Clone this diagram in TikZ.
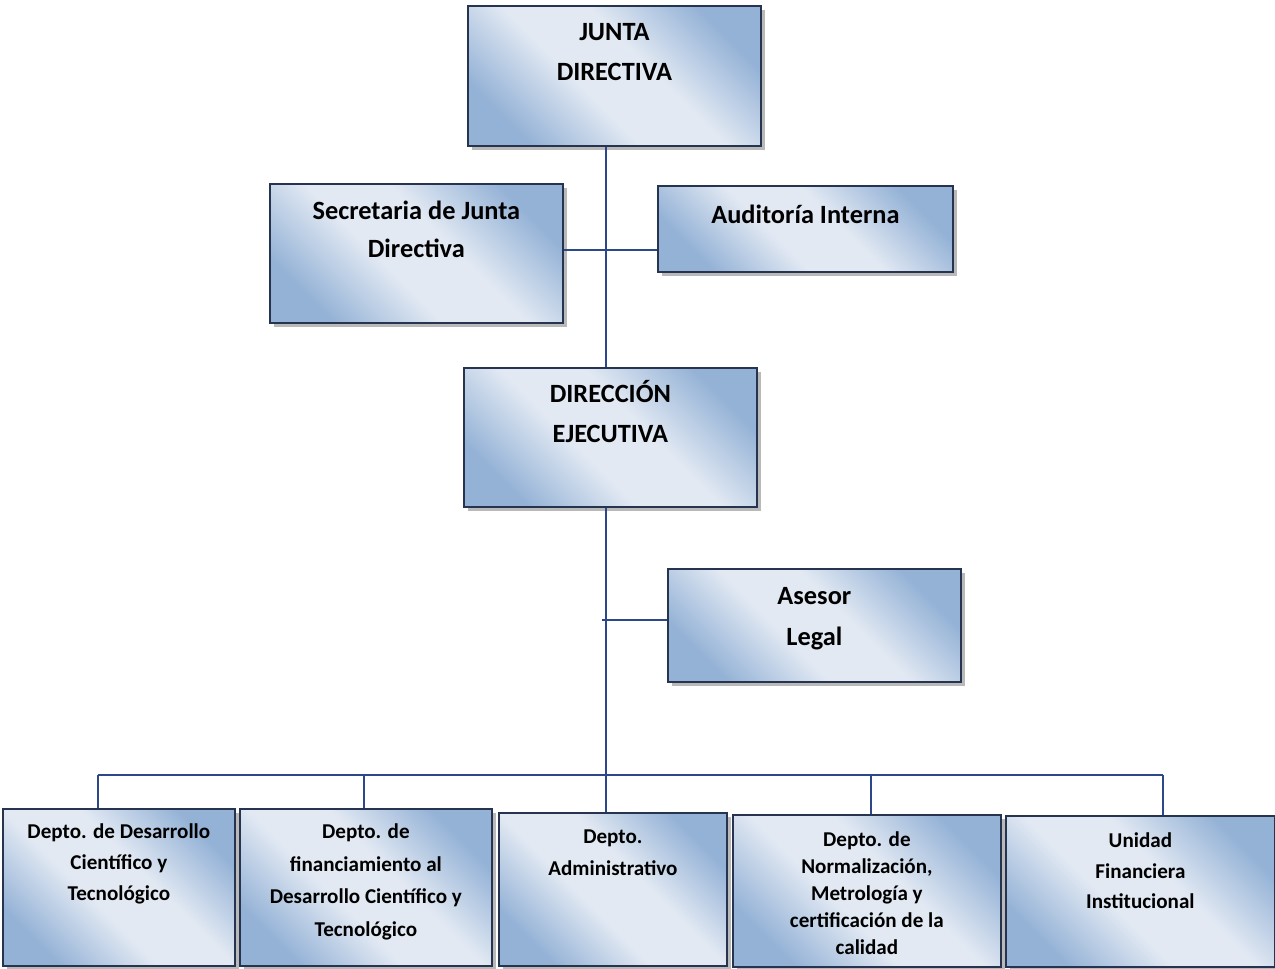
\documentclass[tikz,border=0pt]{standalone}
\usepackage{fontspec}
\setmainfont{Carlito}
\usetikzlibrary{shadows}
\definecolor{boxdark}{RGB}{148,178,214}
\definecolor{boxlight}{RGB}{226,233,243}
\definecolor{boxedge}{RGB}{38,52,80}
\definecolor{linkblue}{RGB}{44,72,138}
\pgfdeclarehorizontalshading{orgshade}{100bp}{color(0bp)=(boxdark); color(25bp)=(boxdark); color(43bp)=(boxlight); color(57bp)=(boxlight); color(75bp)=(boxdark); color(100bp)=(boxdark)}
% box text: height, width, top gap, lines
\newcommand{\boxtext}[4]{\parbox[t][#1][t]{#2}{\centering\vspace*{#3}#4}}

\begin{document}
\begin{tikzpicture}[
    %	style def
    orgbox/.style={draw=boxedge, line width=1pt, shading=orgshade, shading angle=45,
        inner sep=0pt, anchor=north west,
        drop shadow={shadow xshift=2.5pt, shadow yshift=-2.5pt, fill=black!55},
        font=\fontsize{15}{22.7}\selectfont\bfseries},
    deptbox/.style={orgbox, font=\fontsize{12}{17.6}\selectfont\bfseries},
    orgline/.style={draw=linkblue, line width=1.1pt}
    ]
    \useasboundingbox (0,0) rectangle (25.5,-19.36);

    % upper boxes
    \node[orgbox] (junta) at (9.34,-0.1) {\boxtext{2.8cm}{5.86cm}{0.35cm}{JUNTA\\DIRECTIVA}};
    \node[orgbox, font=\fontsize{15}{21.5}\selectfont\bfseries] (secretaria) at (5.38,-3.66) {\boxtext{2.78cm}{5.86cm}{0.34cm}{Secretaria de Junta\\Directiva}};
    \node[orgbox] (auditoria) at (13.14,-3.7) {\boxtext{1.72cm}{5.9cm}{0.39cm}{Auditoría Interna}};
    \node[orgbox] (direccion) at (9.26,-7.34) {\boxtext{2.78cm}{5.86cm}{0.25cm}{DIRECCIÓN\\EJECUTIVA}};
    \node[orgbox, font=\fontsize{15}{23.2}\selectfont\bfseries] (asesor) at (13.34,-11.36) {\boxtext{2.26cm}{5.86cm}{0.37cm}{Asesor\\Legal}};

    % departments
    \node[deptbox] (dcyt) at (0.04,-16.16) {\boxtext{3.14cm}{4.64cm}{0.3cm}{Depto. de Desarrollo\\Científico y\\Tecnológico}};
    \node[deptbox, font=\fontsize{12}{18.5}\selectfont\bfseries] (dfin) at (4.78,-16.16) {\boxtext{3.14cm}{5.04cm}{0.3cm}{Depto. de\\financiamiento al\\Desarrollo Científico y\\Tecnológico}};
    \node[deptbox, font=\fontsize{12}{18}\selectfont\bfseries] (dadm) at (9.96,-16.24) {\boxtext{3.06cm}{4.56cm}{0.34cm}{Depto.\\Administrativo}};
    \node[deptbox, font=\fontsize{12}{15.3}\selectfont\bfseries] (dnorm) at (14.64,-16.28) {\boxtext{3.04cm}{5.36cm}{0.34cm}{Depto. de\\Normalización,\\Metrología y\\certificación de la\\calidad}};
    \node[deptbox, font=\fontsize{12}{17.3}\selectfont\bfseries] (ufi) at (20.1,-16.3) {\boxtext{3.02cm}{5.38cm}{0.34cm}{Unidad\\Financiera\\Institucional}};

    % connection of boxes
    \coordinate (spine) at (12.12,0);
    \coordinate (side) at (12.12,-5.0);
    \coordinate (legal) at (12.04,-12.4);
    \coordinate (busleft) at (1.96,-15.5);
    \coordinate (busright) at (23.26,-15.5);
    \draw[orgline] (spine |- junta.south) -- (spine |- direccion.north);
    \draw[orgline] (side -| secretaria.east) -- (side -| auditoria.west);
    \draw[orgline] (spine |- direccion.south) -- (spine |- busleft);
    \draw[orgline] (legal) -- (legal -| asesor.west);
    \draw[orgline] (busleft) -- (busright);
    \foreach \x/\n in {1.96/dcyt, 7.28/dfin, 12.12/dadm, 17.42/dnorm, 23.26/ufi}
        \draw[orgline] (\x,-15.5) -- (\x,-15.5 |- \n.north);

\end{tikzpicture}
\end{document}
